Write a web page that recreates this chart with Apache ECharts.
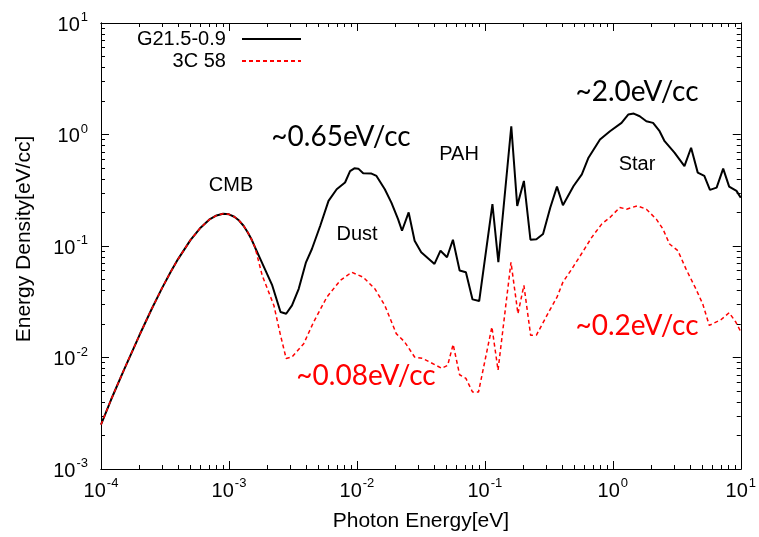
<!DOCTYPE html>
<html><head><meta charset="utf-8">
<script src="https://cdn.jsdelivr.net/npm/echarts@6/dist/echarts.min.js"></script>
<style>html,body{margin:0;padding:0;background:#fff}#c{width:759px;height:537px}</style>
</head><body><div id="c"></div>
<script>
// CMB part shared by both curves (photon energy [eV], energy density [eV/cc])
const cmbEnergy  = [1e-4, 1.2e-4, 1.5e-4, 2e-4, 2.5e-4, 3e-4, 3.5e-4, 4e-4, 5e-4, 6e-4, 7e-4, 8e-4, 9e-4, 1e-3, 1.1e-3, 1.2e-3, 1.3e-3, 1.4e-3, 1.5e-3, 1.6e-3];
const cmbDensity = [0.0025, 0.0042, 0.0076, 0.0159, 0.0275, 0.0419, 0.0584, 0.0763, 0.113, 0.146, 0.172, 0.188, 0.195, 0.1925, 0.183, 0.169, 0.152, 0.133, 0.115, 0.097];

// G21.5-0.9 beyond the CMB
const g21Energy  = [0.0018, 0.00218, 0.00253, 0.0028, 0.00311, 0.00351, 0.0040, 0.00445, 0.00517, 0.0060, 0.00695, 0.00808, 0.00884, 0.00955, 0.01026, 0.0112, 0.0130, 0.01422, 0.01652, 0.0186, 0.02097, 0.02252, 0.02538, 0.02825, 0.0318, 0.0404, 0.0450, 0.0506, 0.0563, 0.0635, 0.0711, 0.0801, 0.0903, 0.1146, 0.1275, 0.1609, 0.179, 0.2019, 0.2272, 0.2529, 0.285, 0.3248, 0.3662, 0.4075, 0.4935, 0.5727, 0.6455, 0.794, 0.950, 1.170, 1.319, 1.458, 1.623, 1.829, 2.063, 2.321, 2.539, 3.034, 3.629, 4.091, 4.611, 5.19, 5.744, 6.475, 7.288, 8.115, 9.26, 10];
const g21Density = [0.072, 0.0443, 0.0256, 0.0247, 0.0293, 0.0413, 0.0714, 0.094, 0.152, 0.254, 0.323, 0.371, 0.470, 0.497, 0.494, 0.449, 0.446, 0.425, 0.323, 0.245, 0.174, 0.137, 0.200, 0.1115, 0.0879, 0.0691, 0.0908, 0.0793, 0.1138, 0.0602, 0.0582, 0.0332, 0.0321, 0.237, 0.0715, 1.186, 0.229, 0.383, 0.1138, 0.115, 0.128, 0.2216, 0.341, 0.2323, 0.3455, 0.4395, 0.6194, 0.902, 1.07, 1.272, 1.509, 1.540, 1.457, 1.315, 1.272, 1.07, 0.871, 0.6866, 0.5212, 0.7606, 0.455, 0.425, 0.3185, 0.334, 0.494, 0.341, 0.312, 0.271];

// 3C 58 beyond the CMB
const c58Energy  = [0.00182, 0.002245, 0.00253, 0.0028, 0.00311, 0.00384, 0.00459, 0.00582, 0.0074, 0.0091, 0.0112, 0.01382, 0.01652, 0.0203, 0.0236, 0.02825, 0.03278, 0.046, 0.0512, 0.0565, 0.0635, 0.0711, 0.0801, 0.0892, 0.1135, 0.1268, 0.160, 0.1814, 0.2019, 0.228, 0.2529, 0.320, 0.3662, 0.4075, 0.4786, 0.590, 0.6845, 0.8185, 0.950, 1.135, 1.28, 1.55, 1.829, 2.188, 2.466, 2.775, 3.225, 3.73, 4.458, 5.04, 5.675, 6.995, 8.115, 9.146, 10];
const c58Density = [0.0543, 0.0293, 0.0158, 0.0098, 0.0101, 0.0133, 0.0208, 0.0348, 0.049, 0.0582, 0.0525, 0.0413, 0.0293, 0.01638, 0.0138, 0.0101, 0.0098, 0.0080, 0.0085, 0.0131, 0.0070, 0.0065, 0.0049, 0.0049, 0.0188, 0.0077, 0.0715, 0.0247, 0.0443, 0.0158, 0.0159, 0.0263, 0.0348, 0.0474, 0.0623, 0.0908, 0.1196, 0.1572, 0.1804, 0.2216, 0.214, 0.229, 0.214, 0.174, 0.1419, 0.1042, 0.0908, 0.0623, 0.0413, 0.0303, 0.0194, 0.0218, 0.0252, 0.0208, 0.017];

// tick labels (decade exponents)
const xTickExponents = [-4, -3, -2, -1, 0, 1];
const yTickExponents = [-3, -2, -1, 0, 1];

const seriesNames = ['G21.5-0.9', '3C 58'];

const xMajor = xTickExponents.map(e => Math.pow(10, e));
const yMajor = yTickExponents.map(e => Math.pow(10, e));
function minorsOf(majors) {
  const out = [];
  for (let i = 0; i < majors.length - 1; i++) for (let k = 2; k <= 9; k++) out.push(majors[i] * k);
  return out;
}
const xMinor = minorsOf(xMajor), yMinor = minorsOf(yMajor);

function zip(a, b) { return a.map((v, i) => [v, b[i]]); }
const g21Data = zip(cmbEnergy, cmbDensity).concat(zip(g21Energy, g21Density));
const c58Data = zip(cmbEnergy, cmbDensity).concat(zip(c58Energy, c58Density));

const GP = 'Liberation Sans';
const PP = 'Lato';
const supRich = {
  b: { fontSize: 20, fontFamily: GP, color: '#000', lineHeight: 24, verticalAlign: 'bottom' },
  s: { fontSize: 13, fontFamily: GP, color: '#000', lineHeight: 13, verticalAlign: 'top', padding: [0, 0, 0, 1] }
};
function expLabel(v) {
  const e = Math.round(Math.log10(v));
  return '{b|10}{s|' + e + '}';
}
const axisLine = { show: true, onZero: false, lineStyle: { color: '#000', width: 1 } };

function makeAxis(kind, pos, ticks, len, extra) {
  const base = {
    type: 'log', logBase: 10,
    min: kind === 'x' ? 1e-4 : 1e-3, max: 10,
    position: pos,
    splitLine: { show: false },
    axisLine: axisLine,
    axisTick: { show: true, inside: true, length: len, customValues: ticks, lineStyle: { color: '#000', width: 1 } },
    axisLabel: { show: false }
  };
  return Object.assign(base, extra || {});
}

const legendBase = {
  right: 457, align: 'right', itemWidth: 59, itemHeight: 14, padding: 0,
  selectedMode: false, formatter: n => n + '  ',
  itemStyle: { opacity: 0 },
  textStyle: { fontSize: 20, fontFamily: GP, color: '#000' }
};

const chart = echarts.init(document.getElementById('c'), null, { renderer: 'canvas' });
chart.setOption({
  backgroundColor: '#fff',
  animation: false,
  grid: { left: 101, right: 14, top: 23, bottom: 66, containLabel: false },
  xAxis: [
    makeAxis('x', 'bottom', xMajor, 8, {
      axisLabel: { show: true, customValues: xMajor, formatter: expLabel, rich: supRich, margin: 8 },
      name: 'Photon Energy[eV]', nameLocation: 'middle', nameGap: 42,
      nameTextStyle: { fontSize: 21, fontFamily: GP, color: '#000' }
    }),
    makeAxis('x', 'bottom', xMinor, 4),
    makeAxis('x', 'top', xMajor, 8),
    makeAxis('x', 'top', xMinor, 4)
  ],
  yAxis: [
    makeAxis('y', 'left', yMajor, 8, {
      axisLabel: { show: true, customValues: yMajor, formatter: expLabel, rich: supRich, margin: 13 },
      name: 'Energy Density[eV/cc]', nameLocation: 'middle', nameGap: 66, nameRotate: 90,
      nameTextStyle: { fontSize: 21, fontFamily: GP, color: '#000', padding: [0, 0, 0, 14] }
    }),
    makeAxis('y', 'left', yMinor, 4),
    makeAxis('y', 'right', yMajor, 8),
    makeAxis('y', 'right', yMinor, 4)
  ],
  legend: [
    Object.assign({ data: [seriesNames[0]], top: 29 }, legendBase),
    Object.assign({ data: [seriesNames[1]], top: 51 }, legendBase)
  ],
  series: [
    { name: seriesNames[0], type: 'line', data: g21Data, symbol: 'none', showSymbol: false, smooth: false,
      lineStyle: { color: '#000', width: 2 }, itemStyle: { color: '#000' }, z: 2 },
    { name: seriesNames[1], type: 'line', data: c58Data, symbol: 'none', showSymbol: false, smooth: false,
      lineStyle: { color: '#ff0000', width: 1.5, type: [4, 3] }, itemStyle: { color: '#ff0000' }, z: 3 }
  ],
  graphic: [
    { t: 'CMB', x: 231, y: 185, f: GP, s: 20, c: '#000' },
    { t: 'Dust', x: 357, y: 234, f: GP, s: 20, c: '#000' },
    { t: 'PAH', x: 459, y: 154, f: GP, s: 20, c: '#000' },
    { t: 'Star', x: 637, y: 164, f: GP, s: 20, c: '#000' },
    { t: '~0.65eV/cc', x: 341, y: 137, f: PP, s: 28, c: '#000' },
    { t: '~2.0eV/cc', x: 637, y: 92, f: PP, s: 28, c: '#000' },
    { t: '~0.08eV/cc', x: 366, y: 376, f: PP, s: 28, c: '#ff0000' },
    { t: '~0.2eV/cc', x: 637, y: 326, f: PP, s: 28, c: '#ff0000' }
  ].map(a => ({
    type: 'text', x: a.x, y: a.y, z: 10,
    style: { text: a.t, fill: a.c, fontSize: a.s, fontFamily: a.f, align: 'center', verticalAlign: 'middle',
             textAlign: 'center', textVerticalAlign: 'middle' }
  }))
});
</script></body></html>
